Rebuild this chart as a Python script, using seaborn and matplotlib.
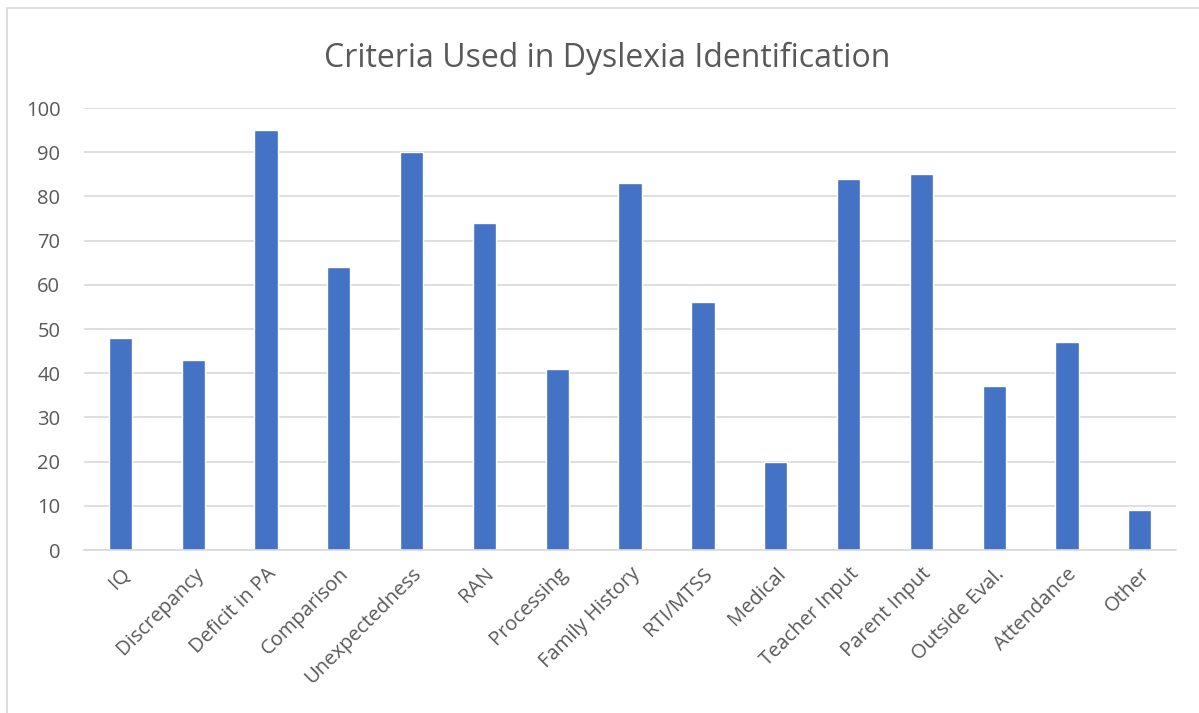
import matplotlib
matplotlib.use("Agg")
import matplotlib.pyplot as plt
import seaborn as sns
import pandas as pd
from matplotlib.patches import Rectangle

categories = ["IQ", "Discrepancy", "Deficit in PA", "Comparison", "Unexpectedness",
              "RAN", "Processing", "Family History", "RTI/MTSS", "Medical",
              "Teacher Input", "Parent Input", "Outside Eval.", "Attendance", "Other"]
values = [48, 43, 95, 64, 90, 74, 41, 83, 56, 20, 84, 85, 37, 47, 9]
yticks = list(range(0, 101, 10))

df = pd.DataFrame({"criteria": categories, "pct": values})

sns.set_style("white")
plt.rcParams['font.family'] = ['Open Sans', 'DejaVu Sans']
text_color = "#595959"

fig = plt.figure(figsize=(11.99, 7.13), dpi=100)
ax = fig.add_axes([0.070, 0.2286, 0.911, 0.6199])

sns.barplot(data=df, x="criteria", y="pct", color="#4472C4", saturation=1,
            width=0.32, ax=ax)

ax.set_ylim(0, 100)
ax.set_yticks(yticks)
ax.set_xlim(-0.5, len(categories) - 0.5)
ax.yaxis.grid(True, color="#D9D9D9", linewidth=1.2)
ax.set_axisbelow(True)
for side in ["top", "right", "left"]:
    ax.spines[side].set_visible(False)
ax.spines["bottom"].set_color("#D9D9D9")
ax.spines["bottom"].set_linewidth(1.2)
ax.tick_params(axis="both", length=0, labelsize=14.5, colors=text_color)
ax.tick_params(axis="y", pad=17)
ax.set_xticks(range(len(categories)))
ax.set_xticklabels(categories, rotation=45, ha="right", rotation_mode="anchor")
ax.tick_params(axis="x", pad=10)
ax.set_xlabel("")
ax.set_ylabel("")

fig.text(0.506, 0.918, "Criteria Used in Dyslexia Identification", ha="center",
         va="center", fontsize=23, color=text_color)

# chart border
fig.patches.append(Rectangle((7 / 1199, -0.01), 1.02, 1 - 8 / 713 + 0.01,
                             transform=fig.transFigure, fill=False,
                             edgecolor="#D9D9D9", linewidth=1.2))

fig.savefig("out.png", dpi=100)
